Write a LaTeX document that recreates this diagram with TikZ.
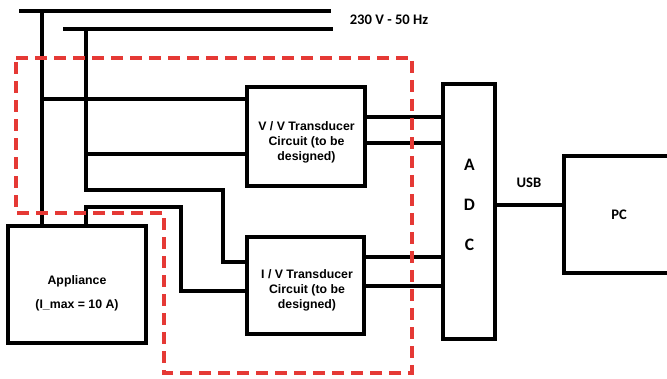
\documentclass[tikz,border=0pt]{standalone}
\usepackage{fontspec}
\setmainfont{Liberation Sans}
\newfontfamily\calibrifont{Carlito}
\usetikzlibrary{calc, positioning}
\definecolor{zoneRed}{RGB}{229, 57, 53}

\begin{document}
\begin{tikzpicture}[x=1pt, y=-1pt,
  wire/.style={line width=3.2pt},
  blockbox/.style={draw, line width=3.2pt, inner sep=0pt, align=center},
  boxtext/.style={align=center, font=\fontsize{12.3}{15}\selectfont\bfseries},
  calabel/.style={align=center, font=\calibrifont\fontsize{14.6}{18}\selectfont\bfseries},
  zone/.style={draw=zoneRed, line width=3.2pt, dash pattern=on 12pt off 7pt}]
  \useasboundingbox (0,0) rectangle (667,379);

  % Blocks
  \node[blockbox, minimum width=138pt, minimum height=117pt] (appliance) at (77,284.5) {};
  \node[blockbox, minimum width=118pt, minimum height=99pt] (vvbox) at (306,136.5) {};
  \node[blockbox, minimum width=117pt, minimum height=97pt] (ivbox) at (305.5,285.5) {};
  \node[blockbox, minimum width=52pt, minimum height=255pt] (adc) at (469,211.5) {};
  \node[blockbox, minimum width=110pt, minimum height=117pt, calabel] (pc) at (619,214.5) {PC};

  % Block texts
  \node[boxtext] (appliancetext) at (77,293) {Appliance\\[9pt](I\_max = 10 A)};
  \node[boxtext] (vvtext) at (306.5,142) {V / V Transducer\\Circuit (to be\\designed)};
  \node[boxtext] (ivtext) at (307,290) {I / V Transducer\\Circuit (to be\\designed)};
  \node[calabel, font=\calibrifont\fontsize{17.5}{20}\selectfont\bfseries] (adcletters) at (469.5,205)
    {A\\[20pt]D\\[20pt]C};

  % Mains bus
  \coordinate (busA-l) at (19,11);  \coordinate (busA-r) at (331,11);
  \coordinate (busB-l) at (63,29);  \coordinate (busB-r) at (333,29);
  \draw[wire] (busA-l) -- (busA-r);
  \draw[wire] (busB-l) -- (busB-r);
  \node[calabel] (mains) at (389,20) {230 V - 50 Hz};

  % Taps from the bus
  \coordinate (dropA) at (42,11);
  \coordinate (dropB) at (86,29);
  \coordinate (tapA) at (42,99);
  \coordinate (tapB) at (86,154);
  \draw[wire] (dropA) -- (dropA |- appliance.north);
  \draw[wire] (tapA) -- (tapA -| vvbox.west);
  \draw[wire] (tapB) -- (tapB -| vvbox.west);
  \draw[wire] (dropB) |- (223,190) |- ([yshift=23.5pt]ivbox.west);
  \draw[wire] ([xshift=9pt]appliance.north) |- (181,207) |- ([yshift=-5.5pt]ivbox.west);

  % Transducer outputs to the ADC
  \foreach \dy in {19.5,-6.5} {
    \path ([yshift=\dy pt]vvbox.east) coordinate (vvout);
    \draw[wire] (vvout) -- (vvout -| adc.west);
  }
  \foreach \dy in {28.5,-0.5} {
    \path ([yshift=\dy pt]ivbox.east) coordinate (ivout);
    \draw[wire] (ivout) -- (ivout -| adc.west);
  }

  % USB link
  \path ([yshift=6.5pt]adc.east) coordinate (usbout);
  \draw[wire] (usbout) -- (usbout -| pc.west);
  \node[calabel] (usb) at (529,183) {USB};

  % Dashed zone of the circuit to be designed
  \draw[zone] (16,58) -- (412,58) -- (412,373) -- (164,373) -- (164,213) -- (16,213) -- cycle;
\end{tikzpicture}
\end{document}
